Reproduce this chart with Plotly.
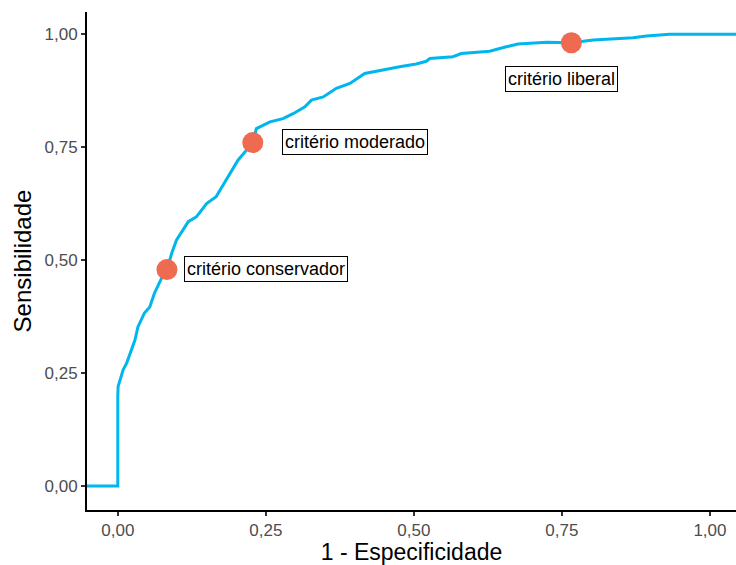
import plotly.graph_objects as go

# ROC curve (1 - specificity, sensitivity)
fpr = [-0.06, 0.0, 0.0, 0.0005, 0.009, 0.015, 0.029, 0.034, 0.045, 0.054, 0.062, 0.074,
       0.083, 0.091, 0.099, 0.119, 0.133, 0.150, 0.166, 0.183, 0.192, 0.203, 0.228,
       0.234, 0.257, 0.279, 0.296, 0.316, 0.327, 0.347, 0.369, 0.392, 0.417, 0.443,
       0.476, 0.504, 0.521, 0.527, 0.566, 0.580, 0.628, 0.656, 0.676, 0.724, 0.766,
       0.803, 0.870, 0.893, 0.932, 1.0, 1.06]
tpr = [0.0, 0.0, 0.198, 0.22, 0.257, 0.272, 0.323, 0.352, 0.383, 0.396, 0.427, 0.460,
       0.479, 0.515, 0.544, 0.585, 0.596, 0.625, 0.640, 0.677, 0.699, 0.721, 0.760,
       0.791, 0.806, 0.813, 0.824, 0.839, 0.854, 0.861, 0.880, 0.891, 0.913, 0.920,
       0.928, 0.934, 0.940, 0.946, 0.950, 0.957, 0.962, 0.972, 0.978, 0.982, 0.981,
       0.987, 0.992, 0.996, 1.0, 1.0, 1.0]

# criteria points
crit_x = [0.083, 0.228, 0.766]
crit_y = [0.479, 0.760, 0.981]
crit_labels = ["critério conservador", "critério moderado", "critério liberal"]
label_x = [0.25, 0.40, 0.75]
label_y = [0.48, 0.761, 0.90]

tick_vals = [0, 0.25, 0.5, 0.75, 1.0]
tick_text = ["0,00", "0,25", "0,50", "0,75", "1,00"]

FONT = "Liberation Sans, Arial, sans-serif"

fig = go.Figure()
fig.add_trace(go.Scatter(x=fpr, y=tpr, mode="lines",
                         line=dict(color="#00B6EE", width=3), showlegend=False,
                         hoverinfo="skip"))
fig.add_trace(go.Scatter(x=crit_x, y=crit_y, mode="markers",
                         marker=dict(color="#EE6A50", size=21, line=dict(width=0)),
                         showlegend=False))

for lx, ly, t in zip(label_x, label_y, crit_labels):
    fig.add_annotation(x=lx, y=ly, text=t, showarrow=False, xref="x", yref="y",
                       font=dict(family=FONT, size=18, color="black"),
                       bgcolor="white", bordercolor="black", borderwidth=1, borderpad=2)

axis_common = dict(showgrid=False, zeroline=False, showline=True, linecolor="black",
                   linewidth=2, ticks="outside", ticklen=4, tickwidth=1.5,
                   tickcolor="#333333", tickfont=dict(family=FONT, size=17, color="#4D4D4D"),
                   tickvals=tick_vals, ticktext=tick_text)

fig.update_xaxes(range=[-0.052, 1.044], title=dict(text="1 - Especificidade",
                 font=dict(family=FONT, size=23, color="black"), standoff=9),
                 **axis_common)
fig.update_yaxes(range=[-0.053, 1.049], title=dict(text="Sensibilidade",
                 font=dict(family=FONT, size=24, color="black"), standoff=6),
                 **axis_common)

fig.update_layout(width=736, height=565, plot_bgcolor="white", paper_bgcolor="white",
                  margin=dict(l=87, r=0, t=12, b=55, autoexpand=False), font=dict(family=FONT))
fig.write_html("out.html")
